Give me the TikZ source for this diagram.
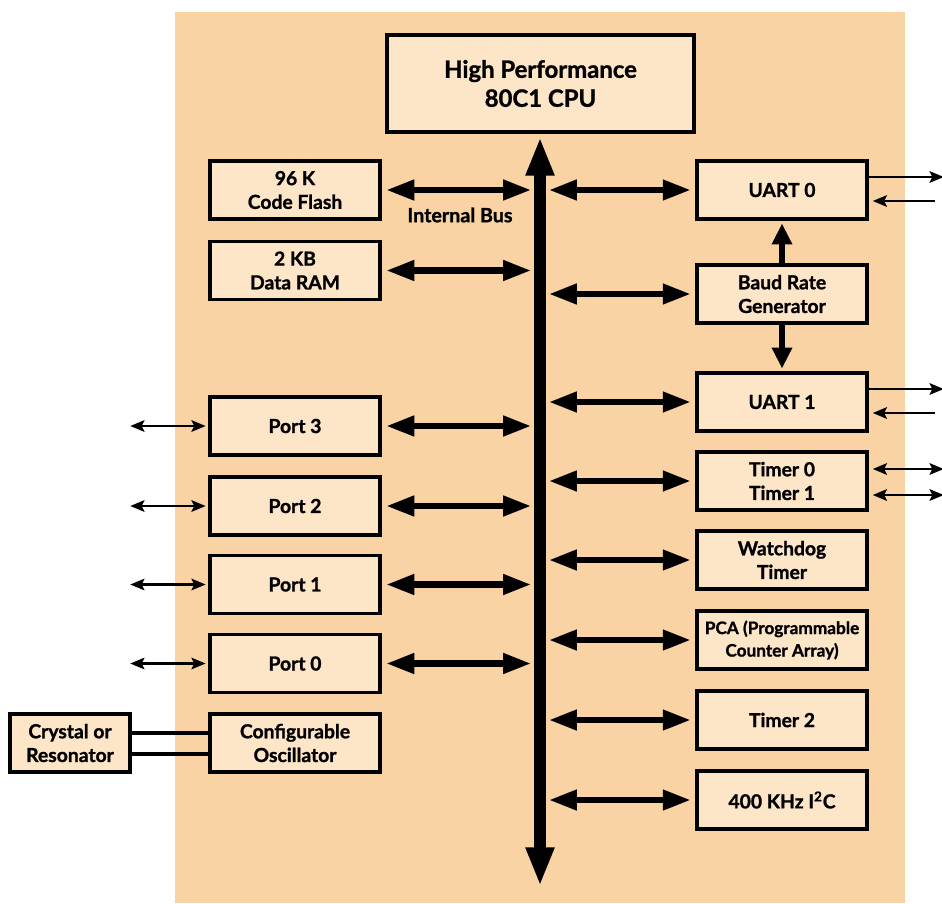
\documentclass[tikz,border=0pt]{standalone}
\usepackage{fontspec}
\setmainfont{Lato}[BoldFeatures={FakeBold=1.2}]
\usetikzlibrary{arrows.meta}
\definecolor{chipbg}{HTML}{F9D3A3}
\definecolor{boxfill}{HTML}{FDE5C8}
\begin{document}
\begin{tikzpicture}[x=0.02cm,y=-0.02cm,
    font=\fontsize{11}{13.5}\selectfont\bfseries,
    blk/.style={draw=black, line width=2pt, fill=boxfill, align=center,
        minimum width=3.4cm, minimum height=1.16cm, inner sep=1pt},
    bus/.style={line width=6.8pt, {Triangle[length=22pt,width=15pt]}-{Triangle[length=22pt,width=15pt]}},
    link/.style={line width=3.6pt, {Triangle[length=16pt,width=11pt]}-{Triangle[length=16pt,width=11pt]}},
    uplink/.style={line width=3.6pt, -{Triangle[length=12pt,width=11pt]}},
    pin/.style={line width=1.5pt, -{Stealth[length=8pt,width=6.5pt,inset=1.5pt]}},
    pins/.style={line width=1.5pt, {Stealth[length=8pt,width=6.5pt,inset=1.5pt]}-{Stealth[length=8pt,width=6.5pt,inset=1.5pt]}}
]
    \useasboundingbox (0,0) rectangle (942,903);
    \fill[chipbg] (175,12) rectangle (905,903);

    % cpu and bus
    \node[blk, minimum width=6.14cm, minimum height=1.94cm,
        font=\fontsize{13.6}{16.5}\selectfont\bfseries] (cpu) at (540.5,83.5) {High Performance\\80C1 CPU};
    \coordinate (bustop) at (540,137);
    \coordinate (busbot) at (540,886);
    \draw[bus] (busbot) -- (bustop);

    % left side
    \node[blk] (flash) at (295,190) {96 K\\Code Flash};
    \node[blk] (ram) at (295,270.5) {2 KB\\Data RAM};
    \node[blk] (port3) at (295,426) {Port 3};
    \node[blk] (port2) at (295,506) {Port 2};
    \node[blk] (port1) at (295,584.5) {Port 1};
    \node[blk] (port0) at (295,663.5) {Port 0};
    \node[blk] (osc) at (295,743) {Configurable\\Oscillator};
    \node[blk, minimum width=2.4cm] (xtal) at (70,743) {Crystal or\\Resonator};

    % right side
    \node[blk] (uart0) at (782,190) {UART 0};
    \node[blk] (baud) at (782,294) {Baud Rate\\Generator};
    \node[blk] (uart1) at (782,402) {UART 1};
    \node[blk] (timers) at (782,481) {Timer 0\\Timer 1};
    \node[blk] (wdt) at (782,560) {Watchdog\\Timer};
    \node[blk, font=\fontsize{9.8}{12.8}\selectfont\bfseries] (pca) at (782,640) {PCA (Programmable\\Counter Array)};
    \node[blk] (timer2) at (782,720) {Timer 2};
    \node[blk] (iic) at (782,800) {400 KHz I\textsuperscript{2}C};

    % bus connections
    \foreach \b in {flash,ram,port3,port2,port1,port0}
        \draw[link, shorten <=2.5pt, shorten >=5pt] (\b.east) -- (\b.east -| bustop);
    \foreach \b in {uart0,baud,uart1,timers,wdt,pca,timer2,iic}
        \draw[link, shorten <=5pt, shorten >=2.5pt] (\b.west -| bustop) -- (\b.west);
    \node[font=\fontsize{11.2}{13}\selectfont\bfseries] (buslabel) at (460,215) {Internal Bus};

    \draw[uplink, shorten >=1.5pt] (baud.north) -- (uart0.south);
    \draw[uplink, shorten >=1.5pt] (baud.south) -- (uart1.north);

    % outside pins
    \foreach \b in {port3,port2,port1,port0}
        \draw[pins, shorten >=1.5pt] ([xshift=-78*0.02cm]\b.west) -- (\b.west);
    \foreach \u in {uart0,uart1} {
        \draw[pin] ([yshift=13*0.02cm]\u.east) -- ++(75,0);
        \draw[pin] ([yshift=-11*0.02cm,xshift=66*0.02cm]\u.east) -- ++(-62,0);
    }
    \draw[pins] ([yshift=12*0.02cm,xshift=4*0.02cm]timers.east) -- ++(71,0);
    \draw[pins] ([yshift=-14*0.02cm,xshift=4*0.02cm]timers.east) -- ++(71,0);
    \draw[line width=2pt] ([yshift=10*0.02cm]xtal.east) -- ([yshift=10*0.02cm]osc.west);
    \draw[line width=2pt] ([yshift=-11*0.02cm]xtal.east) -- ([yshift=-11*0.02cm]osc.west);
\end{tikzpicture}
\end{document}
